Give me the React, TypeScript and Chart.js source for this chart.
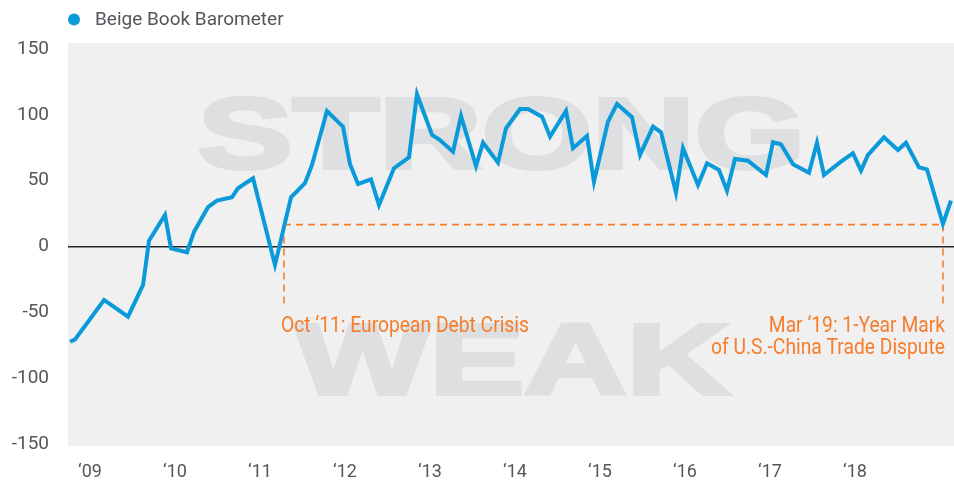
import React, { useEffect, useRef } from 'react';
import { Chart, registerables } from 'chart.js';

Chart.register(...registerables);

const seriesLabel = 'Beige Book Barometer';

// Release dates (decimal years) and barometer readings
const releaseDates = [
  2008.765, 2008.824, 2009.165, 2009.447, 2009.624, 2009.694, 2009.882, 2009.953,
  2010.141, 2010.224, 2010.388, 2010.494, 2010.671, 2010.741, 2010.918, 2011.176,
  2011.365, 2011.529, 2011.612, 2011.788, 2011.976, 2012.059, 2012.153, 2012.306,
  2012.4, 2012.576, 2012.753, 2012.847, 2013.024, 2013.106, 2013.271, 2013.365,
  2013.541, 2013.624, 2013.8, 2013.894, 2014.059, 2014.153, 2014.318, 2014.412,
  2014.6, 2014.682, 2014.847, 2014.929, 2015.094, 2015.2, 2015.376, 2015.471,
  2015.624, 2015.718, 2015.894, 2015.976, 2016.153, 2016.259, 2016.4, 2016.494,
  2016.588, 2016.741, 2016.953, 2017.035, 2017.129, 2017.271, 2017.459, 2017.553,
  2017.635, 2017.835, 2017.976, 2018.071, 2018.153, 2018.341, 2018.506, 2018.6,
  2018.753, 2018.847, 2019.035, 2019.129,
];
const barometerValues = [
  -72.3, -70.5, -40.6, -53.3, -29.2, 4.4, 23.9, -1.4,
  -4.4, 11.2, 29.8, 34.8, 37.4, 44.2, 51.8, -14.0,
  37.4, 48.0, 61.9, 102.9, 91.0, 62.5, 47.5, 51.0,
  31.5, 59.4, 67.7, 115.6, 84.7, 81.4, 72.0, 99.1,
  61.1, 78.8, 63.6, 89.7, 104.4, 104.4, 98.6, 83.4,
  102.9, 74.6, 83.9, 49.2, 94.8, 108.2, 98.2, 69.5,
  91.0, 86.7, 40.9, 74.6, 46.7, 63.2, 58.1, 42.4,
  66.4, 65.1, 54.3, 79.1, 77.6, 62.4, 56.0, 78.8,
  54.3, 64.4, 70.8, 57.6, 69.5, 82.9, 73.3, 78.8,
  60.1, 58.6, 17.1, 34.8,
];

const tickYears = [2009, 2010, 2011, 2012, 2013, 2014, 2015, 2016, 2017, 2018];
const tickLabels = ['\u201809', '\u201810', '\u201811', '\u201812', '\u201813', '\u201814', '\u201815', '\u201816', '\u201817', '\u201818'];
const yTicks = [-150, -100, -50, 0, 50, 100, 150];

// Annotations
const crisisDate = 2011.282;
const tradeDate = 2019.035;
const markerLevel = 16.6;
const markerBottom = -46.7;
const crisisText = ['Oct \u201811: European Debt Crisis'];
const tradeText = ['Mar \u201819: 1-Year Mark', 'of U.S.-China Trade Dispute'];
const strongWord = 'STRONG';
const weakWord = 'WEAK';
const strongAnchor = { x: 2013.84, y: 59.6 };
const weakAnchor = { x: 2013.97, y: -112 };

const BLUE = '#0a9ad9';
const ORANGE = '#f57d2c';
const TEXT = '#53565a';
const PLOT_BG = '#f0f0f0';
const WATERMARK = '#dedfe1';

const decorPlugin = {
  id: 'decor',
  beforeDraw(chart: any) {
    const { ctx, chartArea } = chart;
    ctx.save();
    ctx.fillStyle = '#ffffff';
    ctx.fillRect(0, 0, chart.width, chart.height);
    ctx.fillStyle = PLOT_BG;
    ctx.fillRect(chartArea.left, chartArea.top, chartArea.right - chartArea.left, chartArea.bottom - chartArea.top);
    ctx.restore();
  },
  beforeDatasetsDraw(chart: any) {
    const { ctx, chartArea } = chart;
    const xs = chart.scales.x;
    const ys = chart.scales.y;
    ctx.save();
    ctx.beginPath();
    ctx.rect(chartArea.left, chartArea.top, chartArea.right - chartArea.left, chartArea.bottom - chartArea.top);
    ctx.clip();
    // watermark words
    const drawWord = (word: string, a: { x: number; y: number }) => {
      ctx.save();
      ctx.translate(xs.getPixelForValue(a.x), ys.getPixelForValue(a.y));
      ctx.scale(1.42, 1);
      ctx.font = 'bold 100px "Liberation Sans", Arial, sans-serif';
      ctx.textAlign = 'center';
      ctx.textBaseline = 'alphabetic';
      ctx.fillStyle = WATERMARK;
      ctx.strokeStyle = WATERMARK;
      ctx.lineWidth = 4;
      ctx.lineJoin = 'miter';
      ctx.fillText(word, 0, 0);
      ctx.strokeText(word, 0, 0);
      ctx.restore();
    };
    drawWord(strongWord, strongAnchor);
    drawWord(weakWord, weakAnchor);

    // dashed annotation lines
    const x1 = xs.getPixelForValue(crisisDate);
    const x2 = xs.getPixelForValue(tradeDate);
    const yl = ys.getPixelForValue(markerLevel);
    const yb = ys.getPixelForValue(markerBottom);
    ctx.strokeStyle = ORANGE;
    ctx.lineWidth = 1.6;
    ctx.setLineDash([7, 5]);
    ctx.beginPath();
    ctx.moveTo(x1, yl);
    ctx.lineTo(x2, yl);
    ctx.moveTo(x1, yl);
    ctx.lineTo(x1, yb);
    ctx.moveTo(x2, yl);
    ctx.lineTo(x2, yb);
    ctx.stroke();
    ctx.setLineDash([]);

    // annotation texts
    const drawLines = (lines: string[], x: number, align: 'left' | 'right') => {
      lines.forEach((line, i) => {
        ctx.save();
        ctx.translate(x, yb + 24 + i * 21.6);
        ctx.scale(0.875, 1);
        ctx.font = '22px Roboto, sans-serif';
        ctx.textAlign = align;
        ctx.textBaseline = 'alphabetic';
        ctx.fillStyle = ORANGE;
        ctx.fillText(line, 0, 0);
        ctx.restore();
      });
    };
    drawLines(crisisText, x1 - 3, 'left');
    drawLines(tradeText, x2 + 2, 'right');
    ctx.restore();
  },
  afterDraw(chart: any) {
    const { ctx } = chart;
    const ds = chart.data.datasets[0];
    ctx.save();
    ctx.fillStyle = ds.borderColor;
    ctx.beginPath();
    ctx.arc(74, 19.5, 6, 0, Math.PI * 2);
    ctx.fill();
    ctx.font = '19px Roboto, sans-serif';
    ctx.fillStyle = TEXT;
    ctx.textAlign = 'left';
    ctx.textBaseline = 'middle';
    ctx.fillText(ds.label, 95, 20);
    ctx.restore();
  },
};

export default function App() {
  const canvasRef = useRef<HTMLCanvasElement | null>(null);

  useEffect(() => {
    document.body.style.margin = '0';
    const canvas = canvasRef.current;
    if (!canvas) return;
    const points = releaseDates.map((d, i) => ({ x: d, y: barometerValues[i] }));
    const chart = new Chart(canvas, {
      type: 'line',
      data: {
        datasets: [
          {
            label: seriesLabel,
            data: points,
            borderColor: BLUE,
            backgroundColor: BLUE,
            borderWidth: 4,
            pointRadius: 0,
            tension: 0,
            fill: false,
          },
        ],
      },
      options: {
        animation: false,
        responsive: true,
        maintainAspectRatio: false,
        layout: { padding: { top: 43, left: 0, right: 0, bottom: 0 } },
        plugins: {
          legend: { display: false },
          tooltip: { enabled: false },
        },
        scales: {
          x: {
            type: 'linear',
            min: 2008.741,
            max: 2019.165,
            afterBuildTicks: (axis: any) => {
              axis.ticks = tickYears.map((v) => ({ value: v }));
            },
            afterFit: (axis: any) => {
              axis.height = 34;
            },
            ticks: {
              autoSkip: false,
              maxRotation: 0,
              padding: 16,
              color: TEXT,
              font: { family: 'Roboto, sans-serif', size: 18 },
              callback: (value: any) => tickLabels[tickYears.indexOf(Number(value))] ?? '',
            },
            grid: { display: false, drawTicks: false },
            border: { display: false },
          },
          y: {
            type: 'linear',
            min: -151.5,
            max: 154.5,
            afterBuildTicks: (axis: any) => {
              axis.ticks = yTicks.map((v) => ({ value: v }));
            },
            afterFit: (axis: any) => {
              axis.width = 68;
            },
            ticks: {
              padding: 19,
              color: TEXT,
              font: { family: 'Roboto, sans-serif', size: 19 },
              callback: (value: any) => String(value),
            },
            grid: {
              drawTicks: false,
              lineWidth: 1.6,
              color: (ctx: any) => (ctx.tick && ctx.tick.value === 0 ? '#262424' : 'rgba(0,0,0,0)'),
            },
            border: { display: false },
          },
        },
      },
      plugins: [decorPlugin],
    });
    return () => chart.destroy();
  }, []);

  return (
    <div style={{ position: 'relative', width: 954, height: 480 }}>
      <canvas ref={canvasRef} />
    </div>
  );
}
